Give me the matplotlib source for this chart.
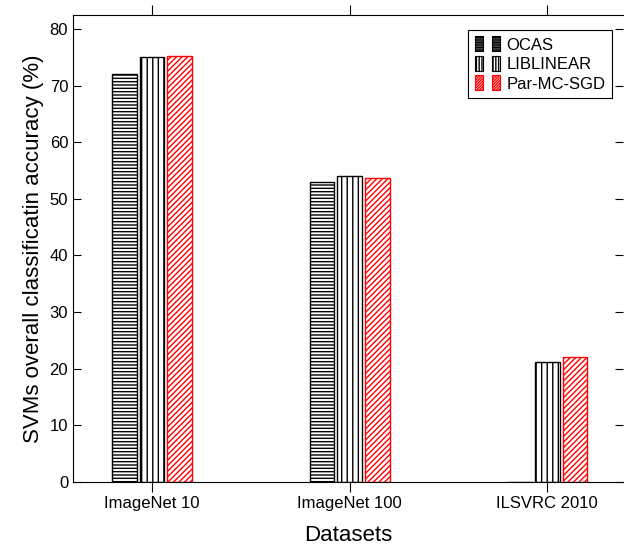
import numpy as np
import matplotlib
matplotlib.use("Agg")
import matplotlib.pyplot as plt
from matplotlib.patches import Patch
from matplotlib.legend_handler import HandlerTuple

plt.rcParams['font.family'] = ['Liberation Sans', 'DejaVu Sans']
plt.rcParams['hatch.linewidth'] = 1.0

# données
datasets = ["ImageNet 10", "ImageNet 100", "ILSVRC 2010"]
ocas = [72.1, 52.9, 0.0]
liblinear = [75.1, 54.1, 21.2]
par_mc_sgd = [75.3, 53.6, 22.0]

series = [("OCAS", ocas, "black", "-----"),
          ("LIBLINEAR", liblinear, "black", "|||"),
          ("Par-MC-SGD", par_mc_sgd, "red", "//////")]

fig = plt.figure(figsize=(6.24, 5.47), dpi=100)
ax = fig.add_axes([0.117, 0.119, 0.882, 0.854])

x = np.arange(len(datasets))
width = 0.124
step = 0.14
handles = []
for i, (name, vals, col, hatch) in enumerate(series):
    ax.bar(x + (i - 1) * step, vals, width, facecolor="white", edgecolor=col,
           hatch=hatch, linewidth=1.0)
    p = Patch(facecolor="white", edgecolor=col, hatch=hatch * 2, linewidth=0.8)
    handles.append((p, p))

ax.set_xlim(-0.40, 2.385)
ax.set_ylim(0, 82.5)
ax.set_xticks(x)
ax.set_xticklabels(datasets, fontsize=12)
ax.set_yticks(np.arange(0, 81, 10))
ax.tick_params(axis='y', direction='in', labelsize=12, length=6, right=True)
ax.tick_params(axis='x', direction='out', top=True, length=7)
ax.spines['right'].set_visible(False)

ax.set_xlabel("Datasets", fontsize=16, labelpad=10)
ax.set_ylabel("SVMs overall classificatin accuracy (%)", fontsize=16, labelpad=4)

leg = ax.legend(handles, [s[0] for s in series],
                handler_map={tuple: HandlerTuple(ndivide=None, pad=0.5)},
                loc="upper right", bbox_to_anchor=(0.98, 0.968), borderaxespad=0,
                fontsize=12, fancybox=False, edgecolor="black",
                handlelength=1.5, handleheight=1.0, labelspacing=0.2,
                handletextpad=0.4, borderpad=0.4, framealpha=1)
leg.get_frame().set_linewidth(0.8)

fig.savefig("out.png", dpi=100)
